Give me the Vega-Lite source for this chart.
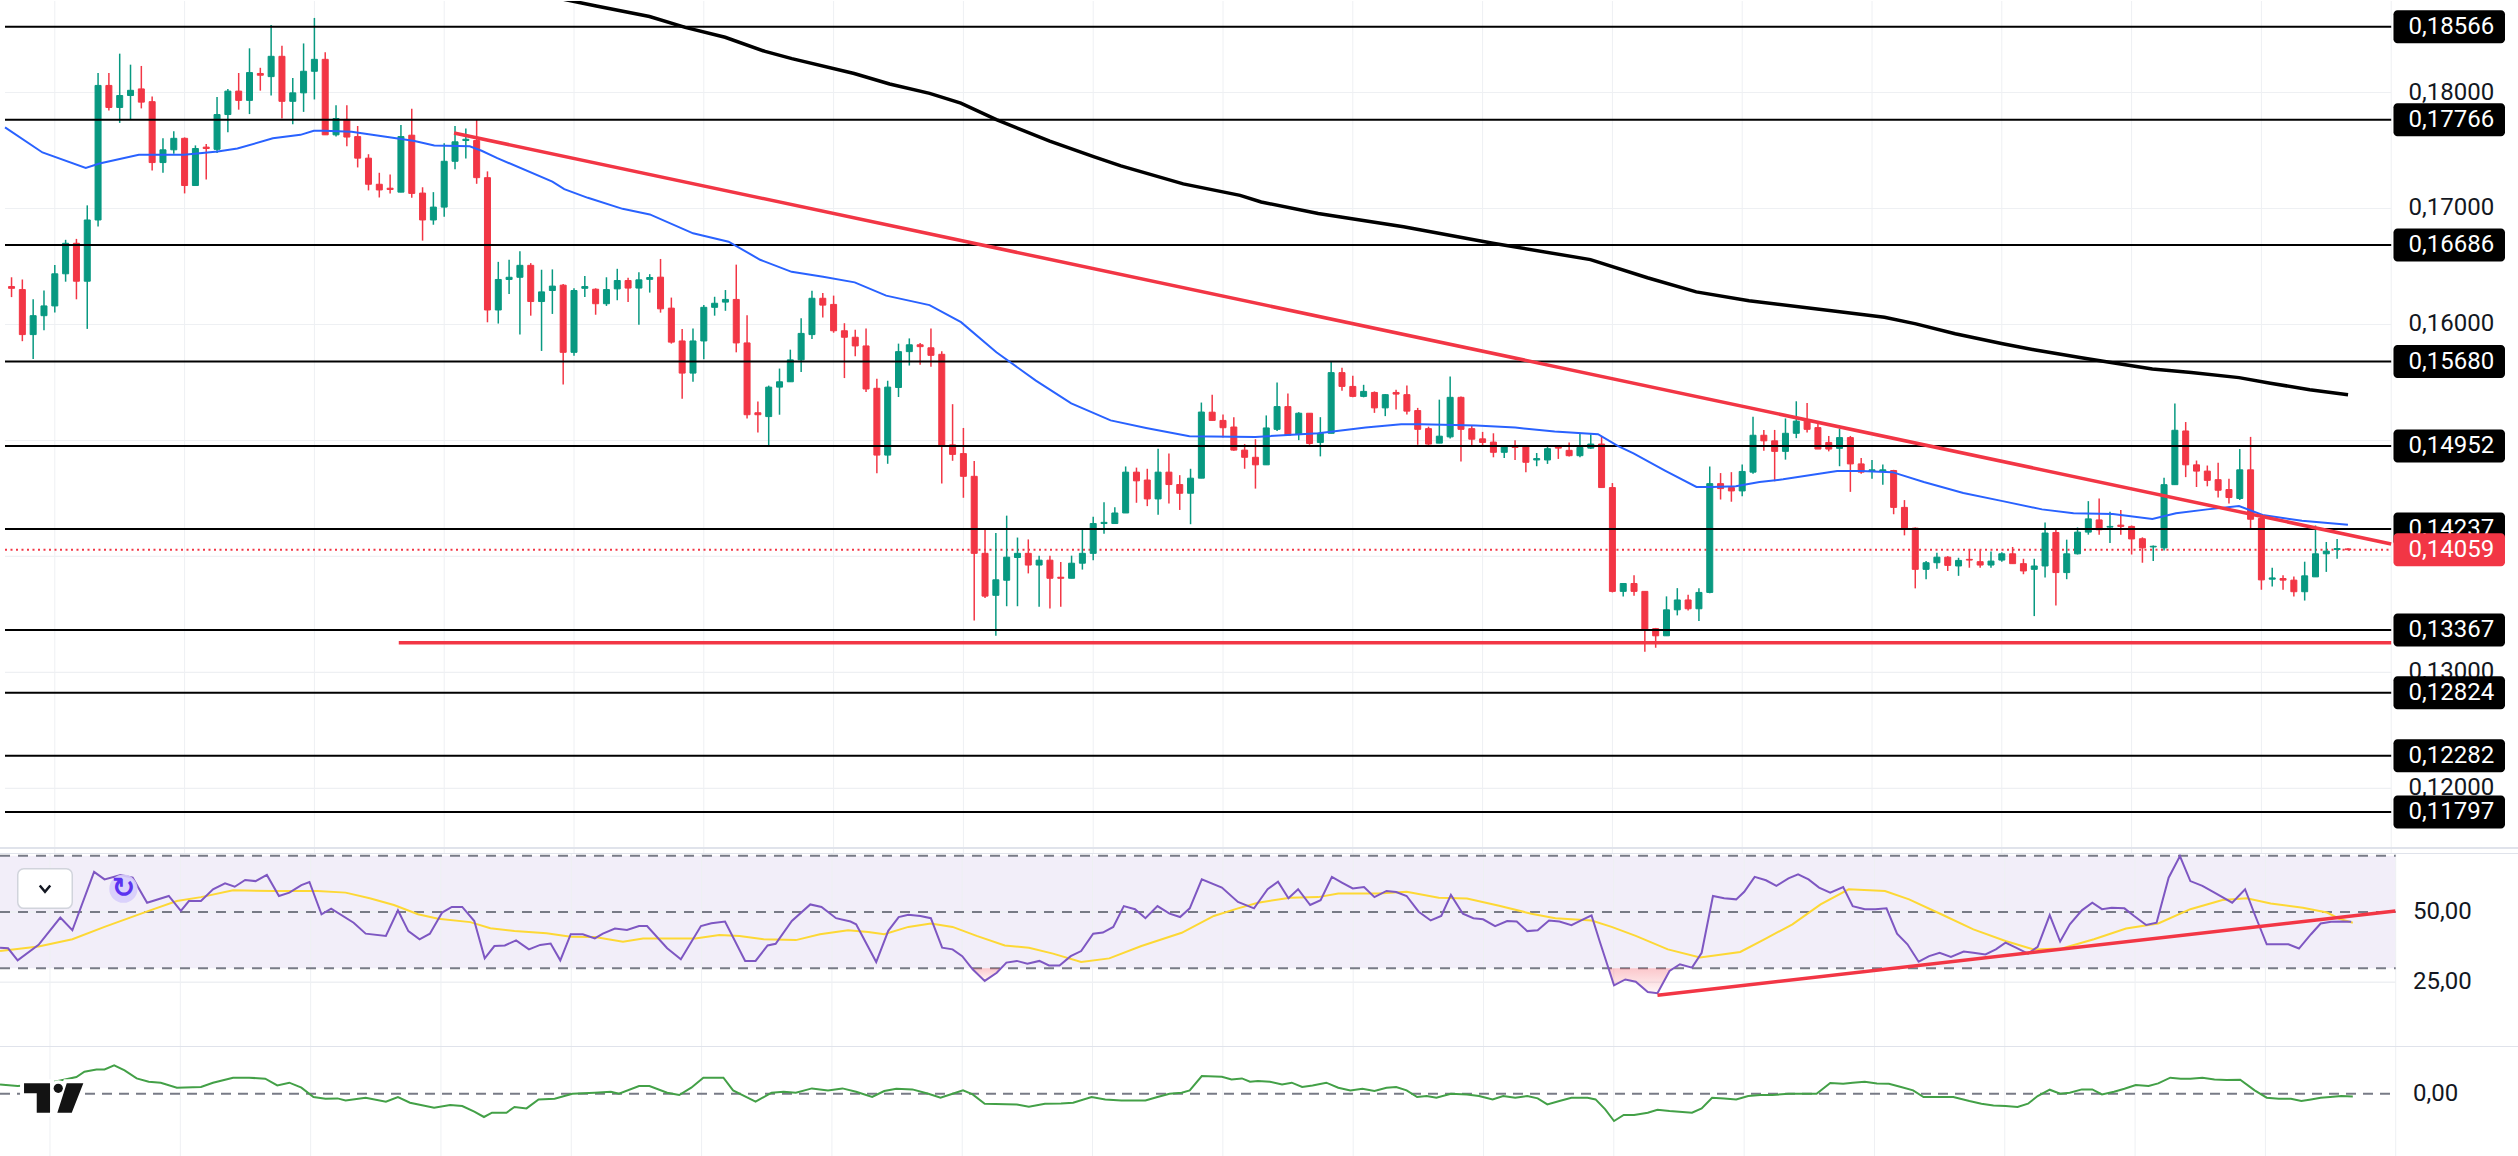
{
  "$schema": "https://vega.github.io/schema/vega-lite/v6.json",
  "background": "#ffffff",
  "padding": 0,
  "autosize": {"type": "pad"},
  "spacing": 0,
  "bounds": "flush",
  "config": {"view": {"stroke": null}, "text": {"font": "Roboto"}},
  "datasets": {
    "candles": [
      {"i":0,"o":0.16327,"h":0.16407,"l":0.16236,"c":0.16312},
      {"i":1,"o":0.16301,"h":0.16388,"l":0.15856,"c":0.15913},
      {"i":2,"o":0.15913,"h":0.16217,"l":0.15703,"c":0.16076},
      {"i":3,"o":0.16076,"h":0.16293,"l":0.15951,"c":0.1616},
      {"i":4,"o":0.1616,"h":0.16513,"l":0.16103,"c":0.16437},
      {"i":5,"o":0.16437,"h":0.1673,"l":0.16369,"c":0.167},
      {"i":6,"o":0.167,"h":0.16738,"l":0.16217,"c":0.16373},
      {"i":7,"o":0.16373,"h":0.17027,"l":0.15962,"c":0.16901},
      {"i":8,"o":0.16901,"h":0.18168,"l":0.16844,"c":0.18061},
      {"i":9,"o":0.18061,"h":0.18168,"l":0.17845,"c":0.17871},
      {"i":10,"o":0.17871,"h":0.18335,"l":0.17738,"c":0.17974},
      {"i":11,"o":0.17974,"h":0.1824,"l":0.17768,"c":0.18019},
      {"i":12,"o":0.18031,"h":0.18229,"l":0.17863,"c":0.17917},
      {"i":13,"o":0.17921,"h":0.17966,"l":0.17327,"c":0.17396},
      {"i":14,"o":0.17396,"h":0.17605,"l":0.17308,"c":0.17506},
      {"i":15,"o":0.17506,"h":0.17666,"l":0.17472,"c":0.17605},
      {"i":16,"o":0.17605,"h":0.17613,"l":0.1713,"c":0.17198},
      {"i":17,"o":0.17198,"h":0.17544,"l":0.17198,"c":0.17517},
      {"i":18,"o":0.17529,"h":0.17555,"l":0.17251,"c":0.17517},
      {"i":19,"o":0.1751,"h":0.17962,"l":0.17479,"c":0.1781},
      {"i":20,"o":0.1781,"h":0.18031,"l":0.17658,"c":0.18012},
      {"i":21,"o":0.18012,"h":0.18168,"l":0.17852,"c":0.17932},
      {"i":22,"o":0.17932,"h":0.18381,"l":0.17814,"c":0.18172},
      {"i":23,"o":0.18164,"h":0.18213,"l":0.18016,"c":0.18149},
      {"i":24,"o":0.18137,"h":0.18582,"l":0.17974,"c":0.18312},
      {"i":25,"o":0.18312,"h":0.18404,"l":0.17776,"c":0.17924},
      {"i":26,"o":0.17924,"h":0.18126,"l":0.17727,"c":0.17997},
      {"i":27,"o":0.17997,"h":0.18423,"l":0.17833,"c":0.18183},
      {"i":28,"o":0.18183,"h":0.18643,"l":0.1794,"c":0.18286},
      {"i":29,"o":0.18286,"h":0.18347,"l":0.17635,"c":0.17635},
      {"i":30,"o":0.17635,"h":0.1789,"l":0.1762,"c":0.17776},
      {"i":31,"o":0.17768,"h":0.1789,"l":0.17536,"c":0.17616},
      {"i":32,"o":0.1762,"h":0.17711,"l":0.17354,"c":0.17434},
      {"i":33,"o":0.17434,"h":0.17468,"l":0.17156,"c":0.17209},
      {"i":34,"o":0.17209,"h":0.17308,"l":0.17095,"c":0.1716},
      {"i":35,"o":0.17175,"h":0.17293,"l":0.1713,"c":0.17164},
      {"i":36,"o":0.17141,"h":0.17719,"l":0.17141,"c":0.1762},
      {"i":37,"o":0.17632,"h":0.1786,"l":0.17092,"c":0.1713},
      {"i":38,"o":0.17133,"h":0.17183,"l":0.16723,"c":0.16901},
      {"i":39,"o":0.16901,"h":0.17141,"l":0.1686,"c":0.17012},
      {"i":40,"o":0.17012,"h":0.17563,"l":0.16928,"c":0.17407},
      {"i":41,"o":0.17407,"h":0.17711,"l":0.17339,"c":0.17575},
      {"i":42,"o":0.17586,"h":0.17689,"l":0.1743,"c":0.17597},
      {"i":43,"o":0.17586,"h":0.17765,"l":0.17213,"c":0.17266},
      {"i":44,"o":0.17266,"h":0.1732,"l":0.16019,"c":0.16125},
      {"i":45,"o":0.16125,"h":0.1654,"l":0.16008,"c":0.16388},
      {"i":46,"o":0.16388,"h":0.16559,"l":0.16262,"c":0.16407},
      {"i":47,"o":0.16407,"h":0.16631,"l":0.15913,"c":0.1651},
      {"i":48,"o":0.1651,"h":0.16529,"l":0.16076,"c":0.16198},
      {"i":49,"o":0.16198,"h":0.16472,"l":0.15772,"c":0.16281},
      {"i":50,"o":0.16293,"h":0.16475,"l":0.16091,"c":0.16331},
      {"i":51,"o":0.16339,"h":0.1635,"l":0.15483,"c":0.1576},
      {"i":52,"o":0.1576,"h":0.16312,"l":0.1573,"c":0.16293},
      {"i":53,"o":0.16312,"h":0.16418,"l":0.16236,"c":0.16327},
      {"i":54,"o":0.16304,"h":0.16312,"l":0.16084,"c":0.16179},
      {"i":55,"o":0.16179,"h":0.16407,"l":0.1616,"c":0.16301},
      {"i":56,"o":0.16307,"h":0.1648,"l":0.16209,"c":0.16379},
      {"i":57,"o":0.16379,"h":0.16402,"l":0.16193,"c":0.16314},
      {"i":58,"o":0.16314,"h":0.16451,"l":0.15998,"c":0.16385},
      {"i":59,"o":0.16389,"h":0.16434,"l":0.16275,"c":0.16405},
      {"i":60,"o":0.16408,"h":0.16565,"l":0.16102,"c":0.16135},
      {"i":61,"o":0.16141,"h":0.16232,"l":0.15835,"c":0.15848},
      {"i":62,"o":0.15858,"h":0.15962,"l":0.15359,"c":0.15581},
      {"i":63,"o":0.15581,"h":0.15965,"l":0.15506,"c":0.15858},
      {"i":64,"o":0.15858,"h":0.16167,"l":0.15701,"c":0.16148},
      {"i":65,"o":0.16148,"h":0.16239,"l":0.16076,"c":0.16183},
      {"i":66,"o":0.16193,"h":0.16297,"l":0.16118,"c":0.16216},
      {"i":67,"o":0.16216,"h":0.16516,"l":0.1576,"c":0.15841},
      {"i":68,"o":0.15841,"h":0.16079,"l":0.1519,"c":0.15222},
      {"i":69,"o":0.15239,"h":0.15336,"l":0.15069,"c":0.15222},
      {"i":70,"o":0.15206,"h":0.15473,"l":0.14945,"c":0.1546},
      {"i":71,"o":0.1546,"h":0.1562,"l":0.15222,"c":0.15506},
      {"i":72,"o":0.15506,"h":0.15783,"l":0.15506,"c":0.15695},
      {"i":73,"o":0.15695,"h":0.16053,"l":0.1559,"c":0.15923},
      {"i":74,"o":0.15913,"h":0.16291,"l":0.15874,"c":0.16226},
      {"i":75,"o":0.16226,"h":0.16271,"l":0.1606,"c":0.16167},
      {"i":76,"o":0.16173,"h":0.16249,"l":0.15929,"c":0.15946},
      {"i":77,"o":0.15946,"h":0.16011,"l":0.15538,"c":0.1589},
      {"i":78,"o":0.1589,"h":0.15955,"l":0.15727,"c":0.15815},
      {"i":79,"o":0.15815,"h":0.15965,"l":0.15418,"c":0.15444},
      {"i":80,"o":0.1545,"h":0.15532,"l":0.14717,"c":0.14874},
      {"i":81,"o":0.14874,"h":0.15515,"l":0.14799,"c":0.1546},
      {"i":82,"o":0.15457,"h":0.15835,"l":0.15375,"c":0.15766},
      {"i":83,"o":0.15766,"h":0.1588,"l":0.15646,"c":0.15825},
      {"i":84,"o":0.15825,"h":0.15841,"l":0.15652,"c":0.15809},
      {"i":85,"o":0.15799,"h":0.15965,"l":0.15636,"c":0.15734},
      {"i":86,"o":0.15743,"h":0.1577,"l":0.14629,"c":0.14952},
      {"i":87,"o":0.14962,"h":0.15313,"l":0.14825,"c":0.1488},
      {"i":88,"o":0.14887,"h":0.15108,"l":0.14506,"c":0.14691},
      {"i":89,"o":0.14691,"h":0.14822,"l":0.13447,"c":0.14027},
      {"i":90,"o":0.14027,"h":0.14229,"l":0.13642,"c":0.13658},
      {"i":91,"o":0.13665,"h":0.14203,"l":0.13316,"c":0.13799},
      {"i":92,"o":0.13795,"h":0.14352,"l":0.13571,"c":0.13994},
      {"i":93,"o":0.13991,"h":0.14163,"l":0.13571,"c":0.14027},
      {"i":94,"o":0.14027,"h":0.14147,"l":0.13854,"c":0.13926},
      {"i":95,"o":0.13926,"h":0.14007,"l":0.13567,"c":0.13968},
      {"i":96,"o":0.13968,"h":0.14007,"l":0.13551,"c":0.13812},
      {"i":97,"o":0.13821,"h":0.13952,"l":0.13567,"c":0.13812},
      {"i":98,"o":0.13812,"h":0.14007,"l":0.13812,"c":0.13942},
      {"i":99,"o":0.13942,"h":0.14238,"l":0.13887,"c":0.14027},
      {"i":100,"o":0.14027,"h":0.14343,"l":0.13968,"c":0.14284},
      {"i":101,"o":0.14284,"h":0.14467,"l":0.14196,"c":0.14294},
      {"i":102,"o":0.14284,"h":0.14424,"l":0.14284,"c":0.14375},
      {"i":103,"o":0.14375,"h":0.14776,"l":0.14375,"c":0.14727},
      {"i":104,"o":0.14727,"h":0.14766,"l":0.14463,"c":0.14652},
      {"i":105,"o":0.14659,"h":0.14756,"l":0.14434,"c":0.14496},
      {"i":106,"o":0.14496,"h":0.14929,"l":0.14359,"c":0.14727},
      {"i":107,"o":0.14727,"h":0.14887,"l":0.14457,"c":0.1462},
      {"i":108,"o":0.1462,"h":0.14701,"l":0.14401,"c":0.14545},
      {"i":109,"o":0.14545,"h":0.14756,"l":0.14278,"c":0.14675},
      {"i":110,"o":0.14675,"h":0.15327,"l":0.14675,"c":0.15245},
      {"i":111,"o":0.15244,"h":0.15395,"l":0.15173,"c":0.15173},
      {"i":112,"o":0.15173,"h":0.15224,"l":0.15025,"c":0.1511},
      {"i":113,"o":0.15116,"h":0.15201,"l":0.14912,"c":0.14917},
      {"i":114,"o":0.14917,"h":0.14969,"l":0.14756,"c":0.14855},
      {"i":115,"o":0.14855,"h":0.15011,"l":0.14585,"c":0.1479},
      {"i":116,"o":0.1479,"h":0.15216,"l":0.1479,"c":0.15108},
      {"i":117,"o":0.15096,"h":0.155,"l":0.15082,"c":0.15292},
      {"i":118,"o":0.15292,"h":0.15406,"l":0.15039,"c":0.15045},
      {"i":119,"o":0.15054,"h":0.15244,"l":0.15003,"c":0.15235},
      {"i":120,"o":0.15235,"h":0.15235,"l":0.14963,"c":0.14974},
      {"i":121,"o":0.14983,"h":0.15201,"l":0.14863,"c":0.15062},
      {"i":122,"o":0.15062,"h":0.15676,"l":0.15062,"c":0.15585},
      {"i":123,"o":0.15585,"h":0.15627,"l":0.15429,"c":0.15466},
      {"i":124,"o":0.15466,"h":0.15559,"l":0.15372,"c":0.1538},
      {"i":125,"o":0.1538,"h":0.1548,"l":0.15372,"c":0.15423},
      {"i":126,"o":0.15414,"h":0.15423,"l":0.15238,"c":0.15281},
      {"i":127,"o":0.15281,"h":0.154,"l":0.1521,"c":0.15395},
      {"i":128,"o":0.15414,"h":0.15437,"l":0.15267,"c":0.154},
      {"i":129,"o":0.15395,"h":0.15474,"l":0.15224,"c":0.15253},
      {"i":130,"o":0.15258,"h":0.15281,"l":0.14963,"c":0.15096},
      {"i":131,"o":0.15102,"h":0.15119,"l":0.14954,"c":0.14969},
      {"i":132,"o":0.14977,"h":0.15352,"l":0.14977,"c":0.15037},
      {"i":133,"o":0.15031,"h":0.15551,"l":0.15017,"c":0.15372},
      {"i":134,"o":0.15372,"h":0.1538,"l":0.14818,"c":0.15096},
      {"i":135,"o":0.15102,"h":0.1513,"l":0.14949,"c":0.15011},
      {"i":136,"o":0.15014,"h":0.15074,"l":0.14949,"c":0.14983},
      {"i":137,"o":0.14986,"h":0.15062,"l":0.14855,"c":0.14898},
      {"i":138,"o":0.14898,"h":0.14951,"l":0.14849,"c":0.14946},
      {"i":139,"o":0.14951,"h":0.15003,"l":0.14832,"c":0.1494},
      {"i":140,"o":0.14946,"h":0.14951,"l":0.14727,"c":0.14812},
      {"i":141,"o":0.14832,"h":0.14892,"l":0.14778,"c":0.14844},
      {"i":142,"o":0.14832,"h":0.14951,"l":0.14798,"c":0.14929},
      {"i":143,"o":0.14946,"h":0.14951,"l":0.14841,"c":0.14934},
      {"i":144,"o":0.14915,"h":0.14983,"l":0.14861,"c":0.14869},
      {"i":145,"o":0.14869,"h":0.15059,"l":0.14855,"c":0.1494},
      {"i":146,"o":0.14934,"h":0.15054,"l":0.14926,"c":0.14969},
      {"i":147,"o":0.14969,"h":0.15039,"l":0.14594,"c":0.14594},
      {"i":148,"o":0.14594,"h":0.14633,"l":0.1369,"c":0.13699},
      {"i":149,"o":0.13699,"h":0.13767,"l":0.13654,"c":0.13767},
      {"i":150,"o":0.13767,"h":0.13838,"l":0.13662,"c":0.13699},
      {"i":151,"o":0.13699,"h":0.13699,"l":0.13179,"c":0.13372},
      {"i":152,"o":0.13378,"h":0.13384,"l":0.13213,"c":0.13316},
      {"i":153,"o":0.13316,"h":0.13656,"l":0.13316,"c":0.1354},
      {"i":154,"o":0.1354,"h":0.13727,"l":0.13492,"c":0.13625},
      {"i":155,"o":0.13625,"h":0.13671,"l":0.13534,"c":0.13549},
      {"i":156,"o":0.13549,"h":0.13725,"l":0.13443,"c":0.1369},
      {"i":157,"o":0.1369,"h":0.14775,"l":0.13682,"c":0.14628},
      {"i":158,"o":0.14628,"h":0.14719,"l":0.14491,"c":0.14585},
      {"i":159,"o":0.14594,"h":0.14727,"l":0.14472,"c":0.14565},
      {"i":160,"o":0.14565,"h":0.14792,"l":0.1452,"c":0.14733},
      {"i":161,"o":0.14727,"h":0.15204,"l":0.14713,"c":0.15045},
      {"i":162,"o":0.15045,"h":0.15091,"l":0.14912,"c":0.14997},
      {"i":163,"o":0.14997,"h":0.15091,"l":0.14648,"c":0.14906},
      {"i":164,"o":0.14906,"h":0.1519,"l":0.14835,"c":0.15062},
      {"i":165,"o":0.15062,"h":0.15338,"l":0.1502,"c":0.15167},
      {"i":166,"o":0.15167,"h":0.15324,"l":0.15068,"c":0.15096},
      {"i":167,"o":0.15111,"h":0.15153,"l":0.14926,"c":0.14926},
      {"i":168,"o":0.14983,"h":0.15039,"l":0.14906,"c":0.14926},
      {"i":169,"o":0.14932,"h":0.15102,"l":0.14778,"c":0.15025},
      {"i":170,"o":0.15025,"h":0.15039,"l":0.14557,"c":0.14798},
      {"i":171,"o":0.14798,"h":0.14849,"l":0.14713,"c":0.14727},
      {"i":172,"o":0.14736,"h":0.14832,"l":0.1467,"c":0.14747},
      {"i":173,"o":0.14736,"h":0.14792,"l":0.14619,"c":0.14747},
      {"i":174,"o":0.14741,"h":0.14747,"l":0.14364,"c":0.14423},
      {"i":175,"o":0.14423,"h":0.14486,"l":0.14182,"c":0.14239},
      {"i":176,"o":0.14244,"h":0.1425,"l":0.13725,"c":0.13889},
      {"i":177,"o":0.13889,"h":0.1396,"l":0.13804,"c":0.13946},
      {"i":178,"o":0.13946,"h":0.14031,"l":0.13895,"c":0.13994},
      {"i":179,"o":0.13994,"h":0.14003,"l":0.13875,"c":0.13923},
      {"i":180,"o":0.13918,"h":0.13989,"l":0.13833,"c":0.13966},
      {"i":181,"o":0.13975,"h":0.14065,"l":0.13903,"c":0.13969},
      {"i":182,"o":0.13955,"h":0.14054,"l":0.13903,"c":0.13926},
      {"i":183,"o":0.13926,"h":0.14043,"l":0.13903,"c":0.1396},
      {"i":184,"o":0.13969,"h":0.14037,"l":0.13955,"c":0.14023},
      {"i":185,"o":0.14023,"h":0.14082,"l":0.13938,"c":0.13938},
      {"i":186,"o":0.13938,"h":0.1398,"l":0.13847,"c":0.13875},
      {"i":187,"o":0.13889,"h":0.1398,"l":0.13486,"c":0.13918},
      {"i":188,"o":0.13918,"h":0.14293,"l":0.13818,"c":0.14202},
      {"i":189,"o":0.14207,"h":0.1423,"l":0.13577,"c":0.13861},
      {"i":190,"o":0.13861,"h":0.14145,"l":0.13804,"c":0.14023},
      {"i":191,"o":0.14023,"h":0.1425,"l":0.14017,"c":0.1421},
      {"i":192,"o":0.1421,"h":0.14477,"l":0.14188,"c":0.14324},
      {"i":193,"o":0.14315,"h":0.145,"l":0.14188,"c":0.1423},
      {"i":194,"o":0.14253,"h":0.14386,"l":0.14117,"c":0.14259},
      {"i":195,"o":0.1427,"h":0.144,"l":0.14188,"c":0.14259},
      {"i":196,"o":0.14259,"h":0.14267,"l":0.14017,"c":0.14151},
      {"i":197,"o":0.14153,"h":0.14165,"l":0.13946,"c":0.14074},
      {"i":198,"o":0.14082,"h":0.14094,"l":0.1396,"c":0.14088},
      {"i":199,"o":0.14074,"h":0.14679,"l":0.14051,"c":0.14619},
      {"i":200,"o":0.14619,"h":0.15318,"l":0.14619,"c":0.15088},
      {"i":201,"o":0.15082,"h":0.15159,"l":0.14684,"c":0.1479},
      {"i":202,"o":0.1479,"h":0.14827,"l":0.14599,"c":0.14736},
      {"i":203,"o":0.14736,"h":0.14784,"l":0.14605,"c":0.14656},
      {"i":204,"o":0.14662,"h":0.14807,"l":0.14508,"c":0.14571},
      {"i":205,"o":0.14577,"h":0.1467,"l":0.14457,"c":0.14508},
      {"i":206,"o":0.145,"h":0.14926,"l":0.14486,"c":0.14747},
      {"i":207,"o":0.14747,"h":0.15031,"l":0.1423,"c":0.14321},
      {"i":208,"o":0.14327,"h":0.14344,"l":0.13713,"c":0.13798},
      {"i":209,"o":0.13804,"h":0.13903,"l":0.13742,"c":0.13815},
      {"i":210,"o":0.1381,"h":0.13838,"l":0.13713,"c":0.13796},
      {"i":211,"o":0.13796,"h":0.13827,"l":0.13654,"c":0.13696},
      {"i":212,"o":0.13696,"h":0.13955,"l":0.1362,"c":0.13833},
      {"i":213,"o":0.13824,"h":0.14267,"l":0.13824,"c":0.14023},
      {"i":214,"o":0.14023,"h":0.14125,"l":0.13867,"c":0.14046},
      {"i":215,"o":0.1406,"h":0.14151,"l":0.1398,"c":0.14068},
      {"i":216,"o":0.14065,"h":0.14071,"l":0.14054,"c":0.14059}
    ],
    "ma50": [
      {"i":-0.6,"p":0.177},{"i":2.86,"p":0.17483},{"i":6.86,"p":0.1735},{"i":8.13,"p":0.17388},
      {"i":11.77,"p":0.17464},{"i":15.96,"p":0.17464},{"i":19.06,"p":0.17491},{"i":20.88,"p":0.17517},
      {"i":24.16,"p":0.17605},{"i":26.71,"p":0.17635},{"i":27.94,"p":0.1767},{"i":28.89,"p":0.1767},
      {"i":31.44,"p":0.17662},{"i":35.08,"p":0.17613},{"i":37.26,"p":0.17582},{"i":39.08,"p":0.17544},
      {"i":42.36,"p":0.17536},{"i":43.46,"p":0.17498},{"i":44.91,"p":0.17434},{"i":50.0,"p":0.17232},
      {"i":51.1,"p":0.17167},{"i":53.28,"p":0.17092},{"i":56.49,"p":0.16997},{"i":59.01,"p":0.16949},
      {"i":63.01,"p":0.16786},{"i":66.29,"p":0.16714},{"i":69.21,"p":0.16558},{"i":72.12,"p":0.16454},
      {"i":75.03,"p":0.16411},{"i":77.95,"p":0.16363},{"i":80.86,"p":0.16249},{"i":84.87,"p":0.16167},
      {"i":87.78,"p":0.1602},{"i":91.05,"p":0.1576},{"i":94.7,"p":0.15516},{"i":97.97,"p":0.1532},
      {"i":101.61,"p":0.15173},{"i":104.89,"p":0.15108},{"i":108.9,"p":0.15037},{"i":114.99,"p":0.15031},
      {"i":120.82,"p":0.15062},{"i":125.19,"p":0.15111},{"i":128.47,"p":0.15139},{"i":130.28,"p":0.15139},
      {"i":135.38,"p":0.1513},{"i":139.02,"p":0.15111},{"i":142.66,"p":0.15077},{"i":146.67,"p":0.15054},
      {"i":148.49,"p":0.14954},{"i":149.95,"p":0.14889},{"i":152.86,"p":0.14741},{"i":155.77,"p":0.14599},
      {"i":157.23,"p":0.14599},{"i":159.41,"p":0.14605},{"i":161.6,"p":0.14642},{"i":163.78,"p":0.14665},
      {"i":168.78,"p":0.14736},{"i":170.97,"p":0.14736},{"i":173.88,"p":0.14727},{"i":176.79,"p":0.14642},
      {"i":180.44,"p":0.14548},{"i":184.08,"p":0.14477},{"i":187.72,"p":0.14406},{"i":190.63,"p":0.14372},
      {"i":194.27,"p":0.14367},{"i":197.92,"p":0.14324},{"i":200.1,"p":0.14372},{"i":203.0,"p":0.14406},
      {"i":205.93,"p":0.14435},{"i":208.11,"p":0.14358},{"i":211.75,"p":0.14307},{"i":216.0,"p":0.14273}
    ],
    "ma200": [
      {"i":50.96,"p":0.18805},{"i":54.06,"p":0.18746},{"i":58.98,"p":0.18655},{"i":62.28,"p":0.18561},
      {"i":65.97,"p":0.18476},{"i":69.67,"p":0.18354},{"i":72.14,"p":0.18292},{"i":77.9,"p":0.18164},
      {"i":81.18,"p":0.18073},{"i":84.88,"p":0.17993},{"i":87.76,"p":0.17908},{"i":91.05,"p":0.17766},
      {"i":95.98,"p":0.17581},{"i":100.1,"p":0.17445},{"i":102.56,"p":0.17368},{"i":108.32,"p":0.17212},
      {"i":113.58,"p":0.17113},{"i":115.53,"p":0.17056},{"i":120.8,"p":0.16957},{"i":128.69,"p":0.16843},
      {"i":136.95,"p":0.16701},{"i":145.97,"p":0.16559},{"i":151.24,"p":0.16403},{"i":155.75,"p":0.16281},
      {"i":160.63,"p":0.16204},{"i":168.83,"p":0.16111},{"i":173.15,"p":0.16062},{"i":176.06,"p":0.16005},
      {"i":179.69,"p":0.1592},{"i":184.08,"p":0.15834},{"i":186.97,"p":0.15783},{"i":191.36,"p":0.15713},
      {"i":194.24,"p":0.1567},{"i":197.92,"p":0.15616},{"i":201.52,"p":0.15587},{"i":205.93,"p":0.15542},
      {"i":208.83,"p":0.15494},{"i":212.47,"p":0.15437},{"i":216.01,"p":0.15395}
    ],
    "trend": [{"i":40.91,"p":0.17651},{"i":220,"p":0.14108}],
    "support": [{"i":35.8,"p":0.13256},{"i":220,"p":0.13256}],
    "levels": [
      {"p":0.18566,"t":"0,18566"},{"p":0.17766,"t":"0,17766"},{"p":0.16686,"t":"0,16686"},
      {"p":0.1568,"t":"0,15680"},{"p":0.14952,"t":"0,14952"},{"p":0.14237,"t":"0,14237"},
      {"p":0.13367,"t":"0,13367"},{"p":0.12824,"t":"0,12824"},{"p":0.12282,"t":"0,12282"},
      {"p":0.11797,"t":"0,11797"}
    ],
    "ticks": [
      {"p":0.18},{"p":0.17},{"p":0.16},{"p":0.15},{"p":0.14},{"p":0.13},{"p":0.12}
    ],
    "ticklab": [
      {"p":0.18,"t":"0,18000"},{"p":0.17,"t":"0,17000"},{"p":0.16,"t":"0,16000"},
      {"p":0.13,"t":"0,13000"},{"p":0.12,"t":"0,12000"}
    ],
    "vgrid": [
      {"i":4},{"i":16},{"i":28},{"i":40},{"i":52},{"i":64},{"i":76},{"i":88},{"i":100},{"i":112},
      {"i":124},{"i":136},{"i":148},{"i":160},{"i":172},{"i":184},{"i":196},{"i":208},{"i":220}
    ],
    "last": [{"p":0.14059,"t":"0,14059"}],
    "rsi": [
      {"i":-0.6,"r":37.3},{"i":0.14,"r":37.1},{"i":1.02,"r":32.8},{"i":2.95,"r":38.3},{"i":4.95,"r":48.0},
      {"i":6.06,"r":43.5},{"i":8.06,"r":64.3},{"i":9.02,"r":61.6},{"i":10.5,"r":63.2},{"i":11.61,"r":62.2},
      {"i":12.94,"r":53.3},{"i":14.94,"r":55.7},{"i":16.05,"r":50.4},{"i":16.79,"r":53.9},{"i":17.9,"r":53.9},
      {"i":19.01,"r":58.1},{"i":20.12,"r":60.2},{"i":21.01,"r":59.0},{"i":21.97,"r":61.4},{"i":22.93,"r":61.0},
      {"i":23.97,"r":63.2},{"i":25.08,"r":55.7},{"i":26.04,"r":56.9},{"i":27.15,"r":59.6},{"i":27.89,"r":60.7},
      {"i":29.0,"r":49.2},{"i":29.89,"r":51.2},{"i":31.96,"r":46.2},{"i":33.07,"r":42.3},{"i":34.93,"r":41.5},
      {"i":36.04,"r":50.6},{"i":37.0,"r":43.2},{"i":38.03,"r":40.3},{"i":38.98,"r":42.3},{"i":40.11,"r":49.8},
      {"i":41.0,"r":51.8},{"i":41.96,"r":51.8},{"i":43.07,"r":46.8},{"i":44.03,"r":33.5},{"i":44.92,"r":37.9},
      {"i":45.88,"r":38.1},{"i":46.92,"r":39.9},{"i":48.1,"r":36.7},{"i":49.14,"r":38.3},{"i":50.1,"r":38.8},
      {"i":50.99,"r":32.8},{"i":51.95,"r":42.1},{"i":53.06,"r":42.1},{"i":54.17,"r":40.6},{"i":54.91,"r":42.3},
      {"i":56.02,"r":44.1},{"i":57.13,"r":43.6},{"i":58.24,"r":45.0},{"i":58.98,"r":45.0},{"i":60.83,"r":37.1},
      {"i":62.09,"r":33.2},{"i":63.94,"r":45.0},{"i":64.9,"r":46.0},{"i":66.16,"r":46.6},{"i":68.01,"r":32.6},
      {"i":68.97,"r":32.6},{"i":70.08,"r":38.1},{"i":70.82,"r":38.7},{"i":72.31,"r":46.8},{"i":74.01,"r":52.7},
      {"i":75.04,"r":51.8},{"i":76.38,"r":47.8},{"i":77.71,"r":46.6},{"i":78.23,"r":45.6},{"i":80.08,"r":32.2},
      {"i":81.19,"r":43.3},{"i":82.15,"r":48.2},{"i":83.04,"r":49.0},{"i":84.15,"r":48.6},{"i":85.11,"r":47.8},
      {"i":86.15,"r":37.3},{"i":87.11,"r":36.7},{"i":88.0,"r":34.3},{"i":88.96,"r":29.6},{"i":90.07,"r":25.5},
      {"i":91.18,"r":28.4},{"i":92.07,"r":32.0},{"i":93.03,"r":32.6},{"i":94.0,"r":31.6},{"i":95.1,"r":32.6},
      {"i":95.99,"r":31.0},{"i":96.96,"r":31.0},{"i":97.99,"r":34.3},{"i":98.95,"r":36.1},{"i":100.06,"r":42.3},
      {"i":100.95,"r":42.7},{"i":101.91,"r":44.7},{"i":102.88,"r":52.1},{"i":103.91,"r":51.0},{"i":104.87,"r":47.8},
      {"i":105.98,"r":52.1},{"i":107.09,"r":49.4},{"i":108.06,"r":48.2},{"i":108.95,"r":51.3},{"i":110.06,"r":61.6},
      {"i":111.91,"r":58.7},{"i":113.39,"r":53.6},{"i":114.87,"r":51.3},{"i":115.23,"r":53.3},{"i":116.12,"r":58.1},
      {"i":117.08,"r":60.8},{"i":118.04,"r":54.9},{"i":118.93,"r":58.1},{"i":120.04,"r":52.5},{"i":121.0,"r":54.2},
      {"i":122.04,"r":62.5},{"i":123.0,"r":60.4},{"i":123.96,"r":58.4},{"i":125.0,"r":58.9},{"i":125.96,"r":55.3},
      {"i":127.07,"r":57.5},{"i":127.96,"r":57.1},{"i":128.92,"r":55.7},{"i":130.03,"r":50.1},{"i":131.14,"r":47.0},
      {"i":132.11,"r":48.6},{"i":133.0,"r":56.1},{"i":134.1,"r":49.4},{"i":135.07,"r":47.8},{"i":135.96,"r":47.4},
      {"i":137.07,"r":45.0},{"i":138.18,"r":46.8},{"i":139.06,"r":46.6},{"i":140.03,"r":43.2},{"i":140.99,"r":43.5},
      {"i":142.03,"r":47.0},{"i":142.99,"r":46.6},{"i":144.1,"r":45.3},{"i":144.99,"r":47.0},{"i":145.95,"r":48.8},
      {"i":146.69,"r":39.7},{"i":148.02,"r":23.9},{"i":149.06,"r":26.0},{"i":150.02,"r":25.2},{"i":151.13,"r":21.5},
      {"i":152.02,"r":21.1},{"i":153.13,"r":29.0},{"i":154.09,"r":31.4},{"i":155.2,"r":30.2},{"i":156.09,"r":35.5},
      {"i":157.13,"r":55.7},{"i":158.16,"r":54.9},{"i":159.27,"r":54.5},{"i":160.01,"r":57.2},{"i":160.97,"r":62.5},
      {"i":162.01,"r":61.3},{"i":162.97,"r":59.3},{"i":164.08,"r":62.0},{"i":164.97,"r":63.4},{"i":165.93,"r":61.6},
      {"i":166.9,"r":58.7},{"i":167.93,"r":56.9},{"i":169.12,"r":58.9},{"i":170.0,"r":52.1},{"i":171.11,"r":51.0},
      {"i":172.08,"r":51.0},{"i":173.11,"r":51.3},{"i":174.08,"r":42.3},{"i":175.04,"r":38.5},{"i":176.07,"r":32.3},
      {"i":177.04,"r":34.3},{"i":178.0,"r":35.5},{"i":179.04,"r":34.0},{"i":180.22,"r":35.9},{"i":181.11,"r":35.5},
      {"i":182.22,"r":34.9},{"i":183.18,"r":36.7},{"i":184.07,"r":39.1},{"i":185.03,"r":37.3},{"i":186.14,"r":35.2},
      {"i":187.03,"r":37.6},{"i":188.14,"r":48.9},{"i":189.1,"r":39.5},{"i":189.99,"r":45.6},{"i":191.1,"r":50.6},
      {"i":192.06,"r":53.3},{"i":192.95,"r":51.0},{"i":193.84,"r":51.5},{"i":195.02,"r":51.3},{"i":195.91,"r":48.6},
      {"i":197.02,"r":45.4},{"i":197.98,"r":46.2},{"i":199.09,"r":62.2},{"i":200.13,"r":69.9},{"i":201.09,"r":61.0},
      {"i":202.2,"r":59.3},{"i":203.31,"r":56.9},{"i":204.94,"r":53.3},{"i":206.13,"r":58.1},{"i":207.01,"r":49.2},
      {"i":208.12,"r":38.5},{"i":209.09,"r":38.5},{"i":210.12,"r":38.5},{"i":211.09,"r":37.0},{"i":212.2,"r":42.1},
      {"i":213.09,"r":45.9},{"i":214.05,"r":46.5},{"i":215.16,"r":46.6},{"i":215.9,"r":46.5}
    ],
    "rsima": [
      {"i":-0.6,"r":36.1},{"i":2.95,"r":37.7},{"i":6.06,"r":40.3},{"i":9.02,"r":44.7},{"i":13.09,"r":50.4},
      {"i":15.68,"r":53.9},{"i":17.9,"r":55.3},{"i":20.86,"r":57.7},{"i":24.56,"r":57.5},{"i":28.63,"r":57.5},
      {"i":31.22,"r":56.9},{"i":33.44,"r":54.9},{"i":35.67,"r":52.5},{"i":37.89,"r":49.2},{"i":39.74,"r":47.6},
      {"i":42.7,"r":46.4},{"i":44.55,"r":44.2},{"i":46.77,"r":43.2},{"i":49.73,"r":42.4},{"i":51.95,"r":41.2},
      {"i":54.17,"r":41.1},{"i":56.76,"r":39.4},{"i":58.61,"r":40.6},{"i":60.83,"r":40.6},{"i":63.42,"r":40.6},
      {"i":65.64,"r":41.8},{"i":67.49,"r":41.5},{"i":69.71,"r":40.3},{"i":72.68,"r":40.0},{"i":74.9,"r":42.1},
      {"i":77.49,"r":43.5},{"i":79.34,"r":42.9},{"i":80.82,"r":42.1},{"i":83.04,"r":44.7},{"i":85.11,"r":45.9},
      {"i":87.11,"r":44.7},{"i":89.33,"r":41.5},{"i":91.92,"r":38.1},{"i":94.14,"r":37.3},{"i":96.36,"r":35.2},
      {"i":98.95,"r":32.2},{"i":101.54,"r":33.5},{"i":104.5,"r":37.9},{"i":108.21,"r":42.6},{"i":111.17,"r":48.6},
      {"i":113.39,"r":51.3},{"i":115.23,"r":53.3},{"i":118.19,"r":55.1},{"i":120.78,"r":55.3},{"i":122.63,"r":56.6},
      {"i":126.33,"r":56.6},{"i":128.92,"r":57.2},{"i":131.88,"r":55.1},{"i":134.48,"r":54.8},{"i":137.44,"r":52.2},
      {"i":140.4,"r":49.4},{"i":142.62,"r":47.8},{"i":145.95,"r":47.0},{"i":147.8,"r":44.7},{"i":150.02,"r":41.5},
      {"i":152.98,"r":36.7},{"i":155.94,"r":33.8},{"i":159.64,"r":35.8},{"i":161.86,"r":40.3},{"i":164.45,"r":45.6},
      {"i":167.04,"r":52.7},{"i":169.63,"r":58.1},{"i":172.97,"r":57.5},{"i":175.19,"r":54.5},{"i":178.15,"r":49.2},
      {"i":181.11,"r":43.8},{"i":184.07,"r":39.7},{"i":186.66,"r":36.7},{"i":189.25,"r":37.0},{"i":192.21,"r":40.3},
      {"i":195.17,"r":44.1},{"i":198.13,"r":45.9},{"i":201.09,"r":51.0},{"i":204.05,"r":54.3},{"i":206.27,"r":54.9},
      {"i":208.49,"r":53.0},{"i":211.45,"r":51.5},{"i":213.67,"r":49.8},{"i":214.79,"r":47.6},{"i":216.05,"r":46.2}
    ],
    "oversold": [
      {"g":1,"i":88.92,"r":30},{"g":1,"i":90.07,"r":25.5},{"g":1,"i":91.18,"r":28.4},{"g":1,"i":91.54,"r":30},
      {"g":2,"i":147.52,"r":30},{"g":2,"i":148.02,"r":23.9},{"g":2,"i":149.06,"r":26.0},{"g":2,"i":150.02,"r":25.2},
      {"g":2,"i":151.13,"r":21.5},{"g":2,"i":152.02,"r":21.1},{"g":2,"i":153.13,"r":29.0},{"g":2,"i":153.47,"r":30}
    ],
    "rsitrend": [{"i":152.02,"r":20.35},{"i":219.97,"r":50.36}],
    "rlev": [{"r":70},{"r":50},{"r":30}],
    "rlab": [{"r":50,"t":"50,00"},{"r":25,"t":"25,00"}],
    "band": [{"hi":70,"lo":30}],
    "osc": [
      {"i":-0.6,"v":0.93},{"i":1.02,"v":0.77},{"i":3.1,"v":0.93},{"i":4.95,"v":1.33},{"i":6.43,"v":1.67},
      {"i":7.17,"v":2.2},{"i":8.28,"v":2.43},{"i":9.02,"v":2.43},{"i":9.91,"v":2.83},{"i":10.87,"v":2.33},
      {"i":11.98,"v":1.53},{"i":13.09,"v":1.2},{"i":14.2,"v":1.1},{"i":15.68,"v":0.6},{"i":17.9,"v":0.67},
      {"i":19.01,"v":1.1},{"i":20.86,"v":1.6},{"i":22.34,"v":1.6},{"i":23.82,"v":1.5},{"i":24.93,"v":0.83},
      {"i":26.04,"v":1.1},{"i":27.15,"v":0.6},{"i":28.26,"v":-0.33},{"i":29.37,"v":-0.5},{"i":30.48,"v":-0.47},
      {"i":31.22,"v":-0.67},{"i":33.07,"v":-0.4},{"i":34.93,"v":-0.8},{"i":36.04,"v":-0.33},{"i":37.15,"v":-0.9},
      {"i":39.37,"v":-1.4},{"i":40.85,"v":-1.13},{"i":41.96,"v":-1.23},{"i":43.07,"v":-1.8},{"i":43.96,"v":-2.33},
      {"i":44.7,"v":-1.9},{"i":46.03,"v":-1.9},{"i":46.77,"v":-1.33},{"i":47.88,"v":-1.47},{"i":48.99,"v":-0.57},
      {"i":50.47,"v":-0.5},{"i":52.1,"v":0.0},{"i":54.17,"v":0.1},{"i":55.65,"v":0.2},{"i":56.39,"v":0.0},
      {"i":58.24,"v":0.77},{"i":59.2,"v":0.77},{"i":60.83,"v":0.1},{"i":61.94,"v":-0.13},{"i":63.05,"v":0.6},
      {"i":64.16,"v":1.6},{"i":66.01,"v":1.6},{"i":66.9,"v":0.33},{"i":68.23,"v":-0.4},{"i":68.97,"v":-0.8},
      {"i":70.45,"v":0.1},{"i":71.56,"v":0.2},{"i":72.68,"v":0.1},{"i":74.16,"v":0.53},{"i":75.64,"v":0.33},
      {"i":76.97,"v":0.53},{"i":78.23,"v":0.2},{"i":79.71,"v":-0.33},{"i":80.82,"v":0.27},{"i":81.93,"v":0.5},
      {"i":83.41,"v":0.43},{"i":84.89,"v":0.0},{"i":86.0,"v":-0.4},{"i":87.11,"v":0.0},{"i":88.07,"v":0.33},
      {"i":88.96,"v":-0.07},{"i":90.07,"v":-1.0},{"i":93.03,"v":-1.07},{"i":94.14,"v":-1.3},{"i":95.62,"v":-1.0},
      {"i":97.1,"v":-0.97},{"i":98.21,"v":-0.9},{"i":99.91,"v":-0.33},{"i":101.17,"v":-0.57},{"i":102.65,"v":-0.67},
      {"i":104.87,"v":-0.67},{"i":105.98,"v":-0.33},{"i":107.09,"v":0.0},{"i":108.21,"v":0.1},{"i":108.95,"v":0.33},
      {"i":110.06,"v":1.77},{"i":111.91,"v":1.7},{"i":112.8,"v":1.43},{"i":113.76,"v":1.53},{"i":114.5,"v":1.2},
      {"i":115.23,"v":1.27},{"i":116.34,"v":1.2},{"i":117.45,"v":0.93},{"i":118.34,"v":1.1},{"i":119.3,"v":0.67},
      {"i":120.26,"v":0.83},{"i":121.52,"v":1.1},{"i":122.63,"v":0.6},{"i":123.74,"v":0.33},{"i":124.85,"v":0.5},
      {"i":125.96,"v":0.27},{"i":127.07,"v":0.6},{"i":127.96,"v":0.67},{"i":128.92,"v":0.33},{"i":129.89,"v":-0.33},
      {"i":130.77,"v":-0.23},{"i":131.66,"v":-0.4},{"i":133.0,"v":0.0},{"i":134.48,"v":-0.07},{"i":135.59,"v":-0.23},
      {"i":136.84,"v":-0.57},{"i":137.81,"v":-0.23},{"i":138.92,"v":-0.4},{"i":140.03,"v":-0.23},{"i":140.99,"v":-0.47},
      {"i":141.88,"v":-1.07},{"i":142.99,"v":-0.73},{"i":144.1,"v":-0.4},{"i":145.58,"v":-0.4},{"i":146.32,"v":-0.57},
      {"i":147.21,"v":-1.57},{"i":148.02,"v":-2.73},{"i":148.91,"v":-2.13},{"i":149.87,"v":-2.13},{"i":151.13,"v":-1.9},
      {"i":152.02,"v":-1.6},{"i":153.13,"v":-1.73},{"i":155.2,"v":-1.9},{"i":156.09,"v":-1.47},{"i":157.05,"v":-0.4},
      {"i":158.16,"v":-0.47},{"i":159.27,"v":-0.57},{"i":160.38,"v":-0.23},{"i":161.49,"v":-0.13},{"i":162.6,"v":-0.13},
      {"i":164.08,"v":0.0},{"i":165.56,"v":0.0},{"i":166.67,"v":0.0},{"i":167.93,"v":1.07},{"i":169.12,"v":1.0},
      {"i":170.0,"v":1.1},{"i":171.11,"v":1.2},{"i":172.23,"v":1.03},{"i":173.33,"v":1.0},{"i":174.45,"v":0.67},
      {"i":175.56,"v":0.33},{"i":176.52,"v":-0.33},{"i":177.78,"v":-0.33},{"i":179.26,"v":-0.33},{"i":180.74,"v":-0.73},
      {"i":181.85,"v":-1.0},{"i":182.96,"v":-1.17},{"i":184.07,"v":-1.23},{"i":185.18,"v":-1.33},{"i":186.14,"v":-1.0},
      {"i":187.03,"v":-0.23},{"i":188.14,"v":0.4},{"i":189.1,"v":0.0},{"i":189.99,"v":0.1},{"i":191.1,"v":0.43},
      {"i":192.06,"v":0.43},{"i":192.95,"v":-0.07},{"i":194.06,"v":0.2},{"i":195.02,"v":0.5},{"i":196.06,"v":0.87},
      {"i":197.24,"v":0.77},{"i":198.13,"v":1.03},{"i":199.24,"v":1.6},{"i":200.2,"v":1.5},{"i":201.09,"v":1.5},
      {"i":202.2,"v":1.6},{"i":203.31,"v":1.43},{"i":204.42,"v":1.37},{"i":205.68,"v":1.4},{"i":207.01,"v":0.33},
      {"i":208.12,"v":-0.4},{"i":209.24,"v":-0.5},{"i":210.35,"v":-0.5},{"i":211.31,"v":-0.73},{"i":212.2,"v":-0.57},
      {"i":213.09,"v":-0.4},{"i":213.96,"v":-0.33},{"i":214.99,"v":-0.23},{"i":216.05,"v":-0.27}
    ],
    "zero": [{"v":0,"t":"0,00"}]
  },
  "vconcat": [
    {
      "width": 2518,
      "height": 852,
      "layer": [
        {"data": {"name": "vgrid"}, "mark": {"type": "rule", "color": "#eef0f3", "strokeWidth": 1},
         "encoding": {"x": {"field": "i", "type": "quantitative", "scale": {"domain": [-0.604, 231.26], "nice": false, "zero": false}, "axis": null}}},
        {"data": {"name": "ticks"}, "mark": {"type": "rule", "color": "#eef0f3", "strokeWidth": 1.2, "clip": true},
         "encoding": {"x": {"datum": -0.604, "type": "quantitative", "axis": null}, "x2": {"datum": 220},
           "y": {"field": "p", "type": "quantitative", "scale": {"domain": [0.114866, 0.187458], "nice": false, "zero": false}, "axis": null}}},
        {"data": {"name": "ma200"}, "mark": {"type": "line", "color": "#000000", "strokeWidth": 3.5, "clip": true},
         "encoding": {"x": {"field": "i", "type": "quantitative", "axis": null}, "y": {"field": "p", "type": "quantitative", "axis": null}}},
        {"data": {"name": "last"}, "mark": {"type": "rule", "color": "#f23645", "strokeWidth": 2, "strokeDash": [2, 3.5], "clip": true},
         "encoding": {"x": {"datum": -0.604, "type": "quantitative", "axis": null}, "x2": {"datum": 220}, "y": {"field": "p", "type": "quantitative", "axis": null}}},
        {"data": {"name": "candles"}, "mark": {"type": "rule", "strokeWidth": 1.5},
         "encoding": {"x": {"field": "i", "type": "quantitative", "axis": null}, "y": {"field": "l", "type": "quantitative", "axis": null}, "y2": {"field": "h"},
           "color": {"condition": {"test": "datum.c >= datum.o", "value": "#089981"}, "value": "#f23645"}}},
        {"data": {"name": "candles"}, "mark": {"type": "bar", "width": 6, "strokeWidth": 1},
         "encoding": {"x": {"field": "i", "type": "quantitative", "axis": null}, "y": {"field": "o", "type": "quantitative", "axis": null}, "y2": {"field": "c"},
           "color": {"condition": {"test": "datum.c >= datum.o", "value": "#089981"}, "value": "#f23645"},
           "stroke": {"condition": {"test": "datum.c >= datum.o", "value": "#089981"}, "value": "#f23645"}}},
        {"data": {"name": "levels"}, "mark": {"type": "rule", "color": "#000000", "strokeWidth": 2, "clip": true},
         "encoding": {"x": {"datum": -0.604, "type": "quantitative", "axis": null}, "x2": {"datum": 220}, "y": {"field": "p", "type": "quantitative", "axis": null}}},
        {"data": {"name": "ma50"}, "mark": {"type": "line", "color": "#2962ff", "strokeWidth": 2, "clip": true},
         "encoding": {"x": {"field": "i", "type": "quantitative", "axis": null}, "y": {"field": "p", "type": "quantitative", "axis": null}}},
        {"data": {"name": "support"}, "mark": {"type": "line", "color": "#f23645", "strokeWidth": 3.5, "clip": true},
         "encoding": {"x": {"field": "i", "type": "quantitative", "axis": null}, "y": {"field": "p", "type": "quantitative", "axis": null}}},
        {"data": {"name": "trend"}, "mark": {"type": "line", "color": "#f23645", "strokeWidth": 3.5, "clip": true},
         "encoding": {"x": {"field": "i", "type": "quantitative", "axis": null}, "y": {"field": "p", "type": "quantitative", "axis": null}}},
        {"data": {"name": "ticklab"}, "mark": {"type": "text", "align": "left", "baseline": "middle", "fontSize": 24, "color": "#131722"},
         "encoding": {"x": {"datum": 221.6, "type": "quantitative", "axis": null}, "y": {"field": "p", "type": "quantitative", "axis": null}, "text": {"field": "t"}}},
        {"data": {"name": "levels"}, "mark": {"type": "bar", "orient": "horizontal", "height": 33, "cornerRadius": 4, "color": "#000000"},
         "encoding": {"x": {"datum": 220.21, "type": "quantitative", "axis": null}, "x2": {"datum": 230.52}, "y": {"field": "p", "type": "quantitative", "axis": null}}},
        {"data": {"name": "levels"}, "mark": {"type": "text", "align": "left", "baseline": "middle", "fontSize": 24, "color": "#ffffff"},
         "encoding": {"x": {"datum": 221.6, "type": "quantitative", "axis": null}, "y": {"field": "p", "type": "quantitative", "axis": null}, "text": {"field": "t"}}},
        {"data": {"name": "last"}, "mark": {"type": "bar", "orient": "horizontal", "height": 33, "cornerRadius": 4, "color": "#f23645"},
         "encoding": {"x": {"datum": 220.21, "type": "quantitative", "axis": null}, "x2": {"datum": 230.52}, "y": {"field": "p", "type": "quantitative", "axis": null}}},
        {"data": {"name": "last"}, "mark": {"type": "text", "align": "left", "baseline": "middle", "fontSize": 24, "color": "#ffffff"},
         "encoding": {"x": {"datum": 221.6, "type": "quantitative", "axis": null}, "y": {"field": "p", "type": "quantitative", "axis": null}, "text": {"field": "t"}}},
        {"data": {"name": "last"}, "mark": {"type": "rule", "color": "#e0e3eb", "strokeWidth": 2, "clip": true},
         "encoding": {"y": {"datum": 0.114866, "type": "quantitative", "axis": null}}}
      ]
    },
    {
      "width": 2518,
      "height": 194,
      "layer": [
        {"data": {"name": "band"}, "mark": {"type": "rect", "color": "#7e57c2", "opacity": 0.1},
         "encoding": {"x": {"datum": -0.604, "type": "quantitative", "axis": null}, "x2": {"datum": 220},
           "y": {"field": "hi", "type": "quantitative", "scale": {"domain": [1.96, 71.0], "nice": false, "zero": false}, "axis": null}, "y2": {"field": "lo"}}},
        {"data": {"name": "vgrid"}, "mark": {"type": "rule", "color": "#eef0f3", "strokeWidth": 1},
         "encoding": {"x": {"field": "i", "type": "quantitative", "scale": {"domain": [-0.604, 231.26], "nice": false, "zero": false}, "axis": null}}},
        {"data": {"name": "rlab"}, "mark": {"type": "rule", "color": "#eef0f3", "strokeWidth": 1.5, "clip": true},
         "encoding": {"x": {"datum": -0.604, "type": "quantitative", "axis": null}, "x2": {"datum": 220}, "y": {"field": "r", "type": "quantitative", "axis": null}}},
        {"data": {"name": "rlev"}, "mark": {"type": "rule", "color": "#787b86", "strokeWidth": 2, "strokeDash": [10, 8], "clip": true},
         "encoding": {"x": {"datum": -0.604, "type": "quantitative", "axis": null}, "x2": {"datum": 220}, "y": {"field": "r", "type": "quantitative", "axis": null}}},
        {"data": {"name": "oversold"}, "mark": {"type": "area",
          "color": {"gradient": "linear", "x1": 0, "y1": 0, "x2": 0, "y2": 1,
            "stops": [{"offset": 0, "color": "rgba(242,54,69,0.28)"}, {"offset": 1, "color": "rgba(242,54,69,0.04)"}]}},
         "encoding": {"x": {"field": "i", "type": "quantitative", "axis": null}, "y": {"field": "r", "type": "quantitative", "axis": null}, "y2": {"datum": 30}, "detail": {"field": "g"}}},
        {"data": {"name": "rsima"}, "mark": {"type": "line", "color": "#fdd835", "strokeWidth": 2, "clip": true},
         "encoding": {"x": {"field": "i", "type": "quantitative", "axis": null}, "y": {"field": "r", "type": "quantitative", "axis": null}}},
        {"data": {"name": "rsi"}, "mark": {"type": "line", "color": "#7e57c2", "strokeWidth": 2, "clip": true},
         "encoding": {"x": {"field": "i", "type": "quantitative", "axis": null}, "y": {"field": "r", "type": "quantitative", "axis": null}}},
        {"data": {"name": "rsitrend"}, "mark": {"type": "line", "color": "#f23645", "strokeWidth": 3.5, "clip": true},
         "encoding": {"x": {"field": "i", "type": "quantitative", "axis": null}, "y": {"field": "r", "type": "quantitative", "axis": null}}},
        {"data": {"name": "rlab"}, "mark": {"type": "text", "align": "left", "baseline": "middle", "fontSize": 24, "color": "#131722"},
         "encoding": {"x": {"datum": 221.6, "type": "quantitative", "axis": null}, "y": {"field": "r", "type": "quantitative", "axis": null}, "text": {"field": "t"}}},
        {"data": {"name": "band"}, "mark": {"type": "rect", "color": "#ffffff", "stroke": "#d1d4dc", "strokeWidth": 1.5, "cornerRadius": 6},
         "encoding": {"x": {"datum": 1.03, "type": "quantitative", "axis": null}, "x2": {"datum": 6.05}, "y": {"datum": 65.4, "type": "quantitative", "axis": null}, "y2": {"datum": 51.3}}},
        {"data": {"name": "band"}, "mark": {"type": "point", "shape": "M-1,-0.6L0,0.6L1,-0.6", "filled": false, "color": "#131722", "strokeWidth": 2.5, "size": 110, "opacity": 1},
         "encoding": {"x": {"datum": 3.54, "type": "quantitative", "axis": null}, "y": {"datum": 58.3, "type": "quantitative", "axis": null}}},
        {"data": {"name": "band"}, "mark": {"type": "point", "shape": "circle", "filled": true, "color": "#d7cdfb", "size": 800, "opacity": 0.9},
         "encoding": {"x": {"datum": 10.76, "type": "quantitative", "axis": null}, "y": {"datum": 58.3, "type": "quantitative", "axis": null}}},
        {"data": {"name": "band"}, "mark": {"type": "text", "text": "↻", "font": "DejaVu Sans", "fontSize": 28, "fontWeight": "bold", "color": "#5b32f0", "align": "center", "baseline": "middle"},
         "encoding": {"x": {"datum": 10.76, "type": "quantitative", "axis": null}, "y": {"datum": 58.3, "type": "quantitative", "axis": null}}},
        {"data": {"name": "band"}, "mark": {"type": "rule", "color": "#e0e3eb", "strokeWidth": 2, "clip": true},
         "encoding": {"y": {"datum": 71.0, "type": "quantitative", "axis": null}}},
        {"data": {"name": "band"}, "mark": {"type": "rule", "color": "#e0e3eb", "strokeWidth": 2, "clip": true},
         "encoding": {"y": {"datum": 1.96, "type": "quantitative", "axis": null}}}
      ]
    },
    {
      "width": 2518,
      "height": 110,
      "layer": [
        {"data": {"name": "vgrid"}, "mark": {"type": "rule", "color": "#eef0f3", "strokeWidth": 1},
         "encoding": {"x": {"field": "i", "type": "quantitative", "scale": {"domain": [-0.604, 231.26], "nice": false, "zero": false}, "axis": null}}},
        {"data": {"name": "zero"}, "mark": {"type": "rule", "color": "#787b86", "strokeWidth": 2, "strokeDash": [10, 7], "clip": true},
         "encoding": {"x": {"datum": -0.604, "type": "quantitative", "axis": null}, "x2": {"datum": 220},
           "y": {"field": "v", "type": "quantitative", "scale": {"domain": [-6.33, 4.67], "nice": false, "zero": false}, "axis": null}}},
        {"data": {"name": "osc"}, "mark": {"type": "line", "color": "#43a047", "strokeWidth": 2, "clip": true},
         "encoding": {"x": {"field": "i", "type": "quantitative", "axis": null}, "y": {"field": "v", "type": "quantitative", "axis": null}}},
        {"data": {"name": "zero"}, "mark": {"type": "text", "align": "left", "baseline": "middle", "fontSize": 24, "color": "#131722"},
         "encoding": {"x": {"datum": 221.6, "type": "quantitative", "axis": null}, "y": {"field": "v", "type": "quantitative", "axis": null}, "text": {"field": "t"}}},
        {"data": {"name": "zero"}, "mark": {"type": "point", "shape": "M-1,-0.496H-0.123V0.496H-0.572V-0.159H-1Z M0.44,-0.496H1L0.609,0.496H0.123Z", "filled": false, "color": "#ffffff", "strokeWidth": 8, "size": 3516, "opacity": 1},
         "encoding": {"x": {"datum": 4.34, "type": "quantitative", "axis": null}, "y": {"datum": -0.43, "type": "quantitative", "axis": null}}},
        {"data": {"name": "zero"}, "mark": {"type": "point", "shape": "circle", "filled": true, "color": "#ffffff", "size": 260, "opacity": 1},
         "encoding": {"x": {"datum": 4.76, "type": "quantitative", "axis": null}, "y": {"datum": 0.54, "type": "quantitative", "axis": null}}},
        {"data": {"name": "zero"}, "mark": {"type": "point", "shape": "M-1,-0.496H-0.123V0.496H-0.572V-0.159H-1Z M0.44,-0.496H1L0.609,0.496H0.123Z", "filled": true, "color": "#131313", "size": 3516, "opacity": 1},
         "encoding": {"x": {"datum": 4.34, "type": "quantitative", "axis": null}, "y": {"datum": -0.43, "type": "quantitative", "axis": null}}},
        {"data": {"name": "zero"}, "mark": {"type": "point", "shape": "circle", "filled": true, "color": "#131313", "size": 85, "opacity": 1},
         "encoding": {"x": {"datum": 4.76, "type": "quantitative", "axis": null}, "y": {"datum": 0.54, "type": "quantitative", "axis": null}}}
      ]
    }
  ]
}
